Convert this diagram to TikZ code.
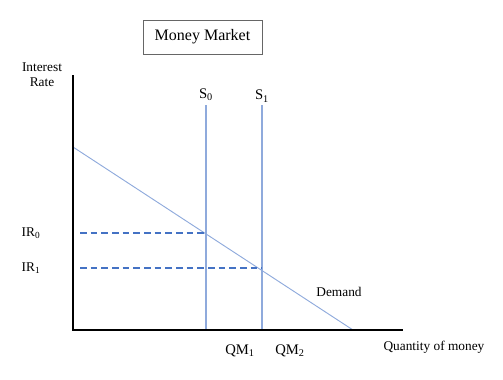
\documentclass[tikz,border=0pt]{standalone}
\usepackage{fontspec}
\setmainfont{Liberation Serif}
\usetikzlibrary{shapes,arrows,positioning}
\definecolor{lineblue}{RGB}{143,170,220}
\definecolor{dashblue}{RGB}{68,114,196}
\tikzstyle{title} = [draw=black!60, minimum width=119*0.75pt, minimum height=34*0.75pt, inner sep=0pt, font=\fontsize{12}{14}\selectfont]
\tikzstyle{lbl} = [inner sep=1pt, font=\fontsize{10}{11}\selectfont]
\tikzstyle{biglbl} = [inner sep=1pt, font=\fontsize{11}{12}\selectfont]
\tikzstyle{axis} = [line width=1.5pt, black]
\tikzstyle{supply} = [line width=1pt, lineblue]
\tikzstyle{demand} = [line width=0.7pt, lineblue]
\tikzstyle{level} = [line width=1pt, dashblue, dash pattern=on 5pt off 3pt]

\begin{document}
\begin{tikzpicture}[x=0.75pt, y=-0.75pt]
	\useasboundingbox (0,0) rectangle (503,379);
	\node[title] (mm) at (202.5,37) {Money Market};
	
	\coordinate (o) at (73,330);
	\coordinate (ytop) at (73,75);
	\coordinate (xend) at (403,330);
	\node[lbl, align=center] (ir) at (42,75) {Interest\\Rate};
	\node[lbl, anchor=west] (qty) at (382,347) {Quantity of money};
	
	\coordinate (d0) at (73,147);
	\coordinate (d1) at (353,330);
	\node[lbl] (dem) at (339,292) {Demand};
	
	\coordinate (s0top) at (206,105);
	\coordinate (s0bot) at (206,330);
	\coordinate (s1top) at (262,105);
	\coordinate (s1bot) at (262,330);
	\node[biglbl, above=2pt of s0top] (s0) {S\textsubscript{0}};
	\node[biglbl, above=1pt of s1top] (s1) {S\textsubscript{1}};
	\node[biglbl] (qm1) at (240,351) {QM\textsubscript{1}};
	\node[biglbl] (qm2) at (290,351) {QM\textsubscript{2}};
	
	\coordinate (e0) at (206,233);
	\coordinate (e1) at (262,268);
	\coordinate (l0) at (80,233);
	\coordinate (l1) at (80,268);
	\node[lbl, anchor=east] (ir0) at (42,233) {IR\textsubscript{0}};
	\node[lbl, anchor=east] (ir1) at (42,268) {IR\textsubscript{1}};
	
	\draw[supply] (s0top) -- (s0bot);
	\draw[supply] (s1top) -- (s1bot);
	\draw[demand] (d0) -- (d1);
	\draw[level] (l0) -- (e0);
	\draw[level] (l1) -- (e1);
	\draw[axis] (ytop) -- (o) -- (xend);
\end{tikzpicture}
\end{document}
